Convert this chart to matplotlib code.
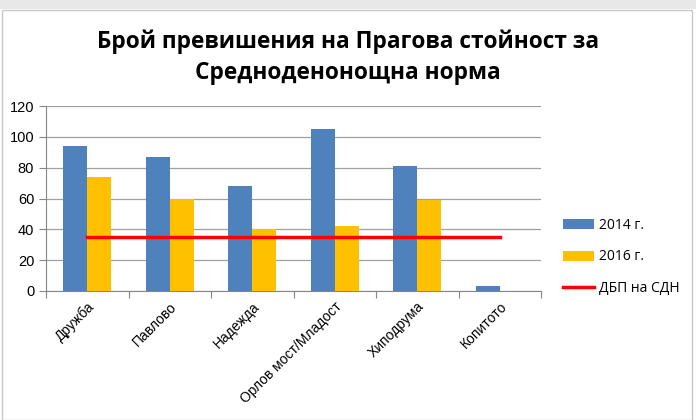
import numpy as np
import matplotlib.pyplot as plt
from matplotlib.patches import Rectangle

# data
stations = ["Дружба", "Павлово", "Надежда", "Орлов мост/Младост", "Хиподрума", "Копитото"]
values_2014 = [94, 87, 68, 105, 81, 3]
values_2016 = [74, 60, 40, 42, 59, 0]
limit_sdn = [35, 35, 35, 35, 35, 35]

fig = plt.figure(figsize=(6.96, 4.2), dpi=100)
ax = fig.add_axes([46 / 696, 1 - 291 / 420, (541 - 46) / 696, (291 - 106) / 420])

# window-like frame round the chart
fig.patches.append(Rectangle((0, 1 - 9 / 420), 1, 9 / 420, transform=fig.transFigure,
                             facecolor='#e8e8e8', edgecolor='none'))
fig.patches.append(Rectangle((2 / 696, 0), 1 - 6 / 696, 1 - 10 / 420, transform=fig.transFigure,
                             facecolor='none', edgecolor='#c8c8c8', linewidth=1))

x = np.arange(len(stations))
w = 0.29
b1 = ax.bar(x - w / 2, values_2014, w, color='#4f81bd', label='2014 г.', zorder=3)
b2 = ax.bar(x + w / 2, values_2016, w, color='#ffc000', label='2016 г.', zorder=3)
ln, = ax.plot(x, limit_sdn, color='#ff0000', linewidth=2.5, label='ДБП на СДН', zorder=4)

ax.set_xlim(-0.5, len(stations) - 0.5)
ax.set_ylim(0, 120)
ax.set_yticks(np.arange(0, 121, 20))
ax.yaxis.grid(True, color='#a0a0a0', linewidth=0.9, zorder=0)

# ticks at category boundaries, labels at centers
ax.set_xticks(np.arange(-0.5, len(stations), 1.0))
ax.set_xticklabels([])
ax.set_xticks(x, minor=True)
ax.set_xticklabels(stations, minor=True, rotation=45, ha='right', rotation_mode='anchor',
                   fontsize=10, family='Liberation Sans')
ax.tick_params(axis='x', which='minor', length=0, pad=6)
ax.tick_params(axis='x', which='major', length=5, color='#868686')
ax.tick_params(axis='y', length=5, color='#868686', labelsize=10.5)
for lab in ax.get_yticklabels():
    lab.set_family('Liberation Sans')

for s in ['top', 'right']:
    ax.spines[s].set_visible(False)
ax.spines['left'].set_color('#868686')
ax.spines['bottom'].set_color('#868686')

fig.text(0.5, 1 - 42 / 420, 'Брой превишения на Прагова стойност за', ha='center', va='center',
         fontsize=16.3, fontweight='bold', family='Open Sans')
fig.text(0.5, 1 - 73 / 420, 'Средноденонощна норма', ha='center', va='center',
         fontsize=16.3, fontweight='bold', family='Open Sans')

leg = fig.legend([b1, b2, ln], ['2014 г.', '2016 г.', 'ДБП на СДН'],
                 loc='center left', bbox_to_anchor=(563 / 696, 1 - 257 / 420), frameon=False,
                 prop={'family': 'Open Sans', 'size': 10}, labelspacing=1.2,
                 handlelength=2.2, handleheight=0.7, handletextpad=0.4,
                 borderpad=0, borderaxespad=0)

fig.savefig('out.png', dpi=100)
